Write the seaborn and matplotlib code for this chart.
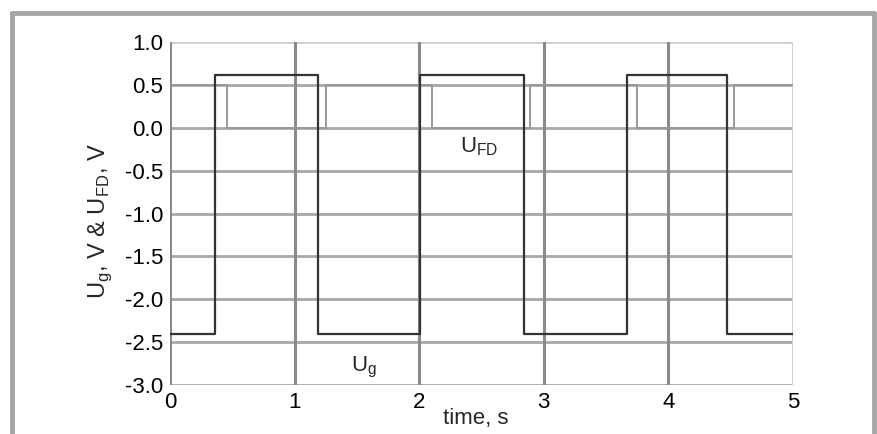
import matplotlib
matplotlib.use("Agg")
import matplotlib.pyplot as plt
import seaborn as sns
import pandas as pd
from matplotlib.lines import Line2D

# ---- data ----
ug_time = [0.0, 0.36, 1.19, 2.01, 2.84, 3.67, 4.47, 5.0]
ug_volt = [-2.4, 0.62, -2.4, 0.62, -2.4, 0.62, -2.4, -2.4]
ufd_time = [0.0, 0.46, 1.25, 2.10, 2.89, 3.75, 4.53, 5.0]
ufd_volt = [0.5, 0.0, 0.5, 0.0, 0.5, 0.0, 0.5, 0.5]
x_ticks = [0, 1, 2, 3, 4, 5]
y_ticks = [1.0, 0.5, 0.0, -0.5, -1.0, -1.5, -2.0, -2.5, -3.0]

sns.set_theme(style="white")
plt.rcParams['font.family'] = ['Liberation Sans', 'DejaVu Sans']

fig = plt.figure(figsize=(8.77, 4.34), dpi=100)
ax = fig.add_axes([0.1938, 0.1129, 0.7104, 0.7903])

df_ug = pd.DataFrame({"t": ug_time, "v": ug_volt})
df_fd = pd.DataFrame({"t": ufd_time, "v": ufd_volt})

sns.lineplot(data=df_fd, x="t", y="v", ax=ax, drawstyle="steps-post",
             color="#999999", linewidth=1.4, zorder=3)
sns.lineplot(data=df_ug, x="t", y="v", ax=ax, drawstyle="steps-post",
             color="#333333", linewidth=1.6, zorder=4)

ax.set_xlim(0, 5)
ax.set_ylim(-3.0, 1.0)
ax.set_xticks(x_ticks)
ax.set_xticklabels([str(t) for t in x_ticks])
ax.set_yticks(y_ticks)
ax.set_yticklabels([f"{v:.1f}" for v in y_ticks])
ax.tick_params(axis="both", labelsize=16, length=0, pad=5, colors="black")

for v in y_ticks:
    ax.axhline(v, color="#a8a8a8" if v != 1.0 else "#d0d0d0", linewidth=2.0, zorder=1)
for t in x_ticks:
    ax.axvline(t, color="#8a8a8a" if t != 5 else "#d0d0d0", linewidth=2.2, zorder=1)
for s in ax.spines.values():
    s.set_visible(False)

ax.set_xlabel("")
ax.set_ylabel("U$_\\mathregular{g}$, V & U$_\\mathregular{FD}$, V", fontsize=17)
ax.yaxis.set_label_coords(-0.09, 0.478)
ax.text(2.19, -3.385, "time, s", fontsize=16, ha="left", va="center", clip_on=False)
ax.text(2.33, -0.22, "U$_\\mathregular{FD}$", fontsize=16, ha="left", va="center")
ax.text(1.45, -2.79, "U$_\\mathregular{g}$", fontsize=16, ha="left", va="center")

# outer frame
fc = "#a6a6a6"
fig.add_artist(Line2D([12/877, 874/877], [1-13/434, 1-13/434], color=fc, linewidth=3.5, transform=fig.transFigure))
fig.add_artist(Line2D([12/877, 12/877], [0, 1-13/434], color=fc, linewidth=3.5, transform=fig.transFigure))
fig.add_artist(Line2D([874/877, 874/877], [0, 1-13/434], color=fc, linewidth=3.5, transform=fig.transFigure))

fig.savefig("out.png", dpi=100)
